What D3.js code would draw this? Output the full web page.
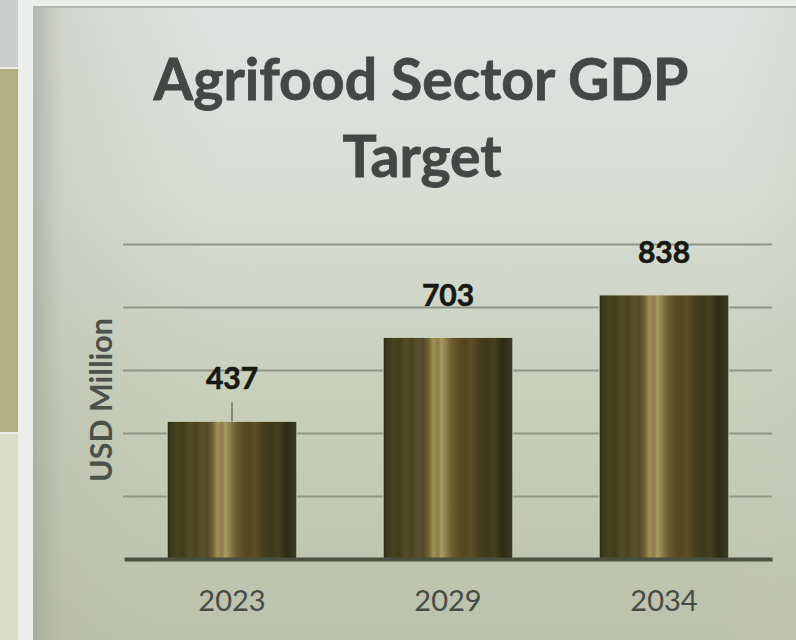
<!DOCTYPE html>
<html>
<head>
<meta charset="utf-8">
<script src="https://cdn.jsdelivr.net/npm/d3@7"></script>
<style>
  html, body { margin: 0; padding: 0; background: #eceeec; }
  svg { display: block; }
</style>
</head>
<body>
<div id="chart"></div>
<script>
// données
const years = ["2023", "2029", "2034"];
const gdp = [437, 703, 838];
const yTicks = [200, 400, 600, 800, 1000];
const titleLines = ["Agrifood Sector GDP", "Target"];
const yTitle = "USD Million";

const W = 796, H = 640;

const svg = d3.select("#chart").append("svg")
    .attr("width", W)
    .attr("height", H);

const defs = svg.append("defs");

// fond du panneau
const bg = defs.append("linearGradient").attr("id", "bg")
    .attr("x1", 0).attr("y1", 0).attr("x2", 0).attr("y2", 1);
bg.append("stop").attr("offset", "0%").attr("stop-color", "#e0e2e1");
bg.append("stop").attr("offset", "30%").attr("stop-color", "#d9ddd6");
bg.append("stop").attr("offset", "60%").attr("stop-color", "#c8cfbb");
bg.append("stop").attr("offset", "100%").attr("stop-color", "#bcc1ac");

const bgLeft = defs.append("linearGradient").attr("id", "bgLeft")
    .attr("x1", 0).attr("y1", 0).attr("x2", 1).attr("y2", 0);
bgLeft.append("stop").attr("offset", "0%").attr("stop-color", "#9fa394").attr("stop-opacity", 0.7);
bgLeft.append("stop").attr("offset", "4%").attr("stop-color", "#b4b8a8").attr("stop-opacity", 0.3);
bgLeft.append("stop").attr("offset", "25%").attr("stop-color", "#c0c8b0").attr("stop-opacity", 0);
bgLeft.append("stop").attr("offset", "90%").attr("stop-color", "#d0d2c8").attr("stop-opacity", 0);
bgLeft.append("stop").attr("offset", "100%").attr("stop-color", "#c4c8ba").attr("stop-opacity", 0.25);

// dégradé des barres (bandes verticales)
const barStops = [
    [0, "#2a2a14"], [3, "#3a3a1e"], [8, "#46441f"], [12, "#3e3c1c"],
    [17, "#524c28"], [22, "#48421f"], [27, "#5a5030"], [31, "#54492a"],
    [35, "#6e6236"], [39, "#a29254"], [42, "#8c7e4a"], [45, "#a89860"],
    [49, "#8a7a48"], [53, "#6c5c30"], [58, "#5e4c22"], [63, "#54461f"],
    [68, "#5c4e26"], [74, "#463e1e"], [80, "#3c381c"], [86, "#44401f"],
    [92, "#2c2c16"], [100, "#3a3a28"]
];
const bar = defs.append("linearGradient").attr("id", "bar")
    .attr("x1", 0).attr("y1", 0).attr("x2", 1).attr("y2", 0);
barStops.forEach(s => bar.append("stop")
    .attr("offset", s[0] + "%").attr("stop-color", s[1]));

// bande de gauche (reste de la diapositive)
svg.append("rect").attr("x", 0).attr("y", 0).attr("width", W).attr("height", H).attr("fill", "#eceeec");
svg.append("rect").attr("x", 0).attr("y", 0).attr("width", 18).attr("height", 67).attr("fill", "#cbcccc");
svg.append("rect").attr("x", 0).attr("y", 69).attr("width", 18).attr("height", 363).attr("fill", "#b2af84");
svg.append("rect").attr("x", 0).attr("y", 434).attr("width", 18).attr("height", 206).attr("fill", "#d9ddca");

// panneau
svg.append("rect").attr("x", 33).attr("y", 6).attr("width", W - 33).attr("height", H - 6).attr("fill", "url(#bg)");
svg.append("rect").attr("x", 33).attr("y", 6).attr("width", W - 33).attr("height", H - 6).attr("fill", "url(#bgLeft)");
svg.append("line").attr("x1", 33).attr("x2", W).attr("y1", 7).attr("y2", 7)
    .attr("stroke", "#b4b6b4").attr("stroke-width", 2);

// échelles
const x = d3.scaleBand()
    .domain(years)
    .range([124, 772])
    .paddingInner(0.4)
    .paddingOuter(0.2);

const y = d3.scaleLinear()
    .domain([0, 1000])
    .range([559, 244]);

// lignes de grille
const grid = svg.append("g")
    .attr("transform", "translate(124,0)")
    .call(d3.axisLeft(y).tickValues(yTicks).tickSize(-648).tickFormat(""));
grid.select(".domain").remove();
grid.selectAll("line").attr("stroke", "#8f9686").attr("stroke-width", 2).attr("x1", -1);

// barres
svg.selectAll(".bar")
    .data(gdp)
    .enter().append("rect")
    .attr("class", "bar")
    .attr("x", (d, i) => x(years[i]))
    .attr("width", x.bandwidth())
    .attr("y", d => y(d))
    .attr("height", d => y(0) - y(d))
    .attr("fill", "url(#bar)")
    .attr("stroke", "#d2d6bc")
    .attr("stroke-width", 0.8);

// axe x
const xAxis = svg.append("g")
    .attr("transform", "translate(0," + y(0) + ")")
    .call(d3.axisBottom(x).tickSize(0).tickPadding(31));
xAxis.select(".domain").attr("stroke", "#4b5141").attr("stroke-width", 4);
xAxis.selectAll("text")
    .attr("font-family", "Lato")
    .attr("font-size", 29)
    .attr("fill", "#464a45");

// petit trait de rappel pour la première étiquette
svg.append("line")
    .attr("x1", x(years[0]) + x.bandwidth() / 2)
    .attr("x2", x(years[0]) + x.bandwidth() / 2)
    .attr("y1", y(gdp[0]) - 19)
    .attr("y2", y(gdp[0]))
    .attr("stroke", "#6d7266").attr("stroke-width", 1.5);

// étiquettes de valeurs
svg.selectAll(".val")
    .data(gdp)
    .enter().append("text")
    .attr("class", "val")
    .attr("x", (d, i) => x(years[i]) + x.bandwidth() / 2)
    .attr("y", d => y(d) - 32)
    .attr("text-anchor", "middle")
    .attr("font-family", "Lato")
    .attr("font-weight", "bold")
    .attr("font-size", 30)
    .attr("fill", "#161812")
    .attr("stroke", "#161812")
    .attr("stroke-width", 0.6)
    .text(d => d);

// titre
function fit(sel, target) {
    const w = sel.node().getComputedTextLength();
    const fs = parseFloat(sel.attr("font-size"));
    sel.attr("font-size", fs * target / w);
    return fs * target / w;
}

const t1 = svg.append("text")
    .attr("x", 421).attr("y", 100)
    .attr("text-anchor", "middle")
    .attr("font-family", "Lato").attr("font-weight", "bold")
    .attr("font-size", 60).attr("fill", "#444745")
    .attr("stroke", "#444745").attr("stroke-width", 0.8)
    .text(titleLines[0]);
const fs = fit(t1, 535);

svg.append("text")
    .attr("x", 422).attr("y", 177)
    .attr("text-anchor", "middle")
    .attr("font-family", "Lato").attr("font-weight", "bold")
    .attr("font-size", fs).attr("fill", "#444745")
    .attr("stroke", "#444745").attr("stroke-width", 0.8)
    .text(titleLines[1]);

// titre de l'axe y
const yt = svg.append("text")
    .attr("transform", "translate(112,400) rotate(-90)")
    .attr("text-anchor", "middle")
    .attr("font-family", "Lato").attr("font-weight", "bold")
    .attr("font-size", 30).attr("fill", "#4b5048")
    .text(yTitle);
fit(yt, 164);
</script>
</body>
</html>
